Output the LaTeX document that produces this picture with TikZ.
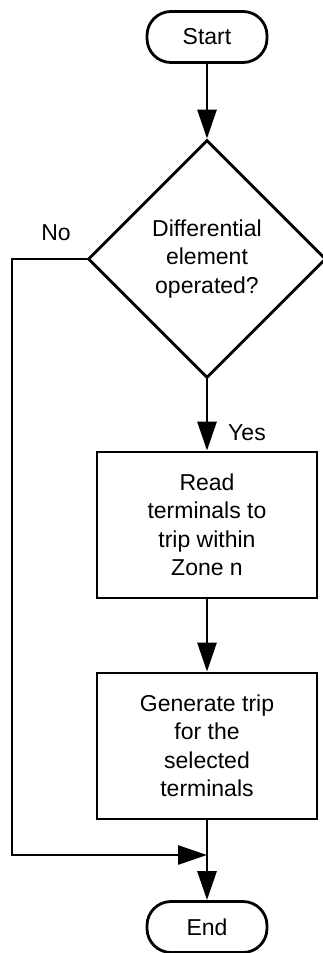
\documentclass[tikz,border=0pt]{standalone}
\usepackage{fontspec}
\setmainfont{Liberation Sans}
\usetikzlibrary{arrows.meta,shapes}
\tikzstyle{block}=[draw, line width=2.8pt, align=center
%,fill=white
,inner sep=0pt
,font=\fontsize{23}{28.5}\selectfont
]
\tikzstyle{terminal} = [block, rectangle, rounded corners=24pt, minimum width=120pt, minimum height=51pt]
\tikzstyle{process} = [block, rectangle, minimum width=220pt, minimum height=146pt]
\tikzstyle{decision} = [block, diamond, aspect=1, minimum size=238pt]
\tikzstyle{tag} = [font=\fontsize{23}{28.5}\selectfont]
\tikzstyle{flow} = [draw, line width=2.8pt, -{Triangle[length=29pt,width=19pt]}]

\begin{document}
\begin{tikzpicture}[x=1pt,y=-1pt]
    \useasboundingbox (0,0) rectangle (323,953);
    % First we draw the blocks
    \node[terminal] (start) at (207,37) {Start};
    \node[decision] (test) at (207,259) {Differential\\element\\operated?};
    \node[process] (read) at (207,525) {Read\\terminals to\\trip within\\Zone n};
    \node[process] (trip) at (207,746) {Generate trip\\for the\\selected\\terminals};
    \node[terminal] (stop) at (207,927) {End};

    % Labels of the two branches
    \node[tag] (no) at (56,233) {No};
    \node[tag] (yes) at (247,433) {Yes};
    \coordinate (noturn) at (12,259);
    \coordinate (merge) at (207,855);

    % Connect blocks with arrows
    \foreach \source/ \dest in {start/test, test/read, read/trip, trip/stop}
        \path[flow] (\source) -- (\dest);
    \path[flow] (test.west) -- (noturn) |- (merge);
\end{tikzpicture}
\end{document}
